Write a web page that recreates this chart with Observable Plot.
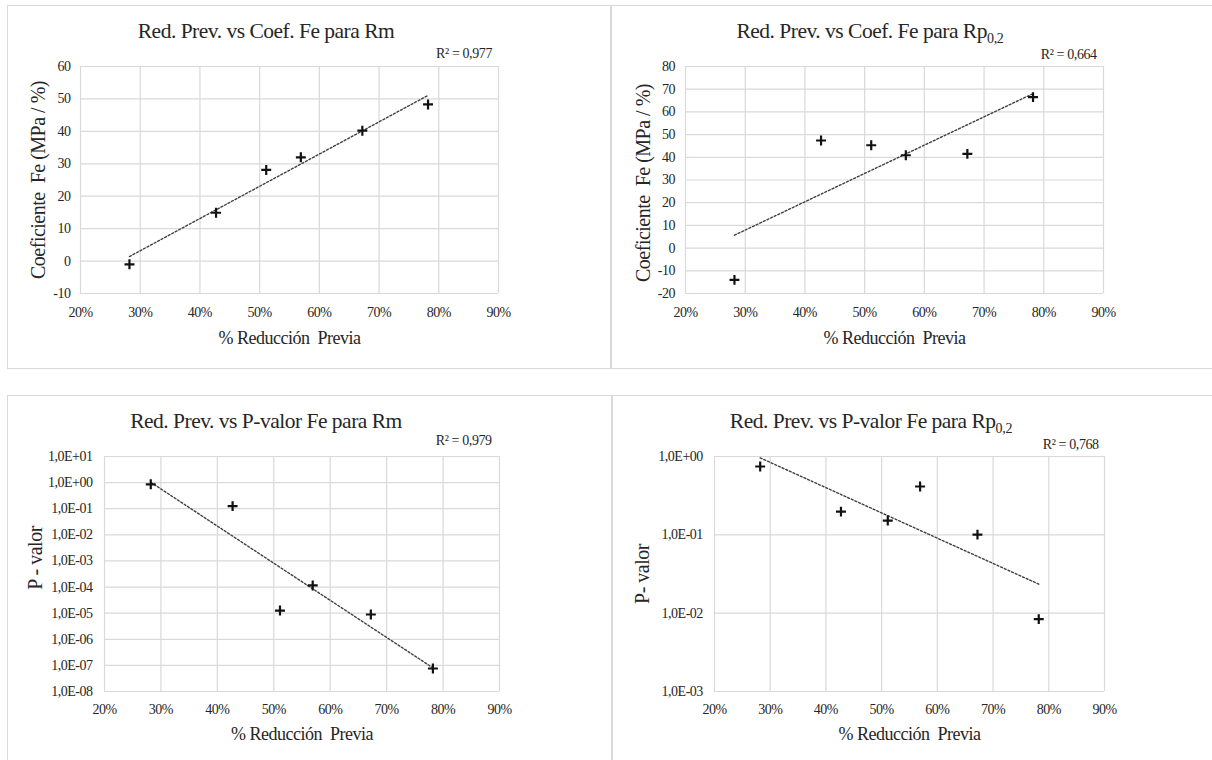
<!DOCTYPE html>
<html>
<head>
<meta charset="utf-8">
<script src="https://cdn.jsdelivr.net/npm/d3@7"></script>
<script src="https://cdn.jsdelivr.net/npm/@observablehq/plot@0.6"></script>
<style>
  html, body { margin: 0; padding: 0; background: #fff; }
  #page { position: relative; width: 1212px; height: 760px; overflow: hidden; background: #fff;
          font-family: "Liberation Serif", "Times New Roman", serif; color: #262626; }
  .panel { position: absolute; }
  .line { position: absolute; background: #d9d9d9; }
  .title { position: absolute; font-size: 21.5px; line-height: 21.5px; letter-spacing: -0.5px;
           white-space: nowrap; transform: translateX(-50%); color: #262626; }
  .title sub { font-size: 14px; line-height: 0; vertical-align: -5px; letter-spacing: -0.3px; }
  .r2 { position: absolute; font-size: 14px; line-height: 14px; letter-spacing: -0.4px;
        white-space: nowrap; transform: translateX(-100%); color: #262626; }
</style>
</head>
<body>
<div id="page"></div>
<script>
// ---------- data ----------
const reduccion = [0.282, 0.427, 0.511, 0.569, 0.672, 0.782];
const coefRm    = [-1, 14.9, 28.1, 32, 40.2, 48.3];
const coefRp    = [-14, 47.4, 45.3, 40.9, 41.5, 66.5];
const pvalRm    = [0.86, 0.126, 1.26e-5, 1.15e-4, 8.9e-6, 7.6e-8];
const pvalRp    = [0.745, 0.198, 0.152, 0.414, 0.1007, 0.0084];

const xTicks      = [0.2, 0.3, 0.4, 0.5, 0.6, 0.7, 0.8, 0.9];
const coefRmTicks = [-10, 0, 10, 20, 30, 40, 50, 60];
const coefRpTicks = [-20, -10, 0, 10, 20, 30, 40, 50, 60, 70, 80];
const pvalRmTicks = [1e-8, 1e-7, 1e-6, 1e-5, 1e-4, 1e-3, 1e-2, 1e-1, 1e0, 1e1];
const pvalRpTicks = [1e-3, 1e-2, 1e-1, 1e0];

const titles  = ["Red. Prev. vs Coef. Fe para Rm", "Red. Prev. vs Coef. Fe para Rp",
                 "Red. Prev. vs P-valor Fe para Rm", "Red. Prev. vs P-valor Fe para Rp"];
const titleSubs = ["", "0,2", "", "0,2"];
const r2Labels = ["R² = 0,977", "R² = 0,664", "R² = 0,979", "R² = 0,768"];
const xLabel = "% Reducción\u00a0\u00a0Previa";
const yLabels = ["Coeficiente\u00a0\u00a0Fe (MPa / %)", "Coeficiente\u00a0\u00a0Fe (MPa / %)", "P - valor", "P- valor"];

// ---------- helpers ----------
const pct = d => Math.round(d * 100) + "%";
const sci = d => { const e = Math.round(Math.log10(d)); return "1,0E" + (e < 0 ? "-" : "+") + String(Math.abs(e)).padStart(2, "0"); };

// least-squares trend (in log10 space for log panels), evaluated at data extent
function trend(xs, ys, log) {
  const t = ys.map(v => log ? Math.log10(v) : v);
  const mx = d3.mean(xs), my = d3.mean(t);
  const sxy = d3.sum(xs, (x, i) => (x - mx) * (t[i] - my));
  const sxx = d3.sum(xs, x => (x - mx) ** 2);
  const b = sxy / sxx, a = my - b * mx;
  return d3.extent(xs).map(x => { const v = a + b * x; return {x, y: log ? 10 ** v : v}; });
}

const panels = [
  {left: 0,   top: 0,   width: 606, height: 370, m: [66, 108, 77, 80],  vals: coefRm, ticks: coefRmTicks, domain: [-10, 60], log: false,
   tpadX: 14, tpadY: 10, xdy: 50, ydx: -42, ydy: 0, tx: 266, ty: 39.3, rx: 492, ry: 58.3},
  {left: 606, top: 0,   width: 606, height: 370, m: [66, 109, 77, 79],  vals: coefRp, ticks: coefRpTicks, domain: [-20, 80], log: false,
   tpadX: 14, tpadY: 10.5, xdy: 50, ydx: -42, ydy: 3, tx: 870, ty: 39.3, rx: 1096.7, ry: 59.3},
  {left: 0,   top: 380, width: 606, height: 380, m: [76, 107, 69, 104], vals: pvalRm, ticks: pvalRmTicks, domain: [1e-8, 1e1], log: true,
   tpadX: 12.5, tpadY: 12, xdy: 48.5, ydx: -69, ydy: -16, tx: 266, ty: 429.3, rx: 491.7, ry: 446},
  {left: 606, top: 380, width: 606, height: 380, m: [76, 108, 69, 108], vals: pvalRp, ticks: pvalRpTicks, domain: [1e-3, 1e0], log: true,
   tpadX: 12.5, tpadY: 11.7, xdy: 48.5, ydx: -72, ydy: 0, tx: 871, ty: 429.3, rx: 1098.7, ry: 450}
];

const page = document.getElementById("page");

// panel borders
const lines = [
  [7, 5, 1205, 1], [7, 5, 1, 364], [610, 5, 2, 364], [7, 368, 1205, 1],
  [7, 395, 1205, 1], [7, 395, 1, 365], [611, 395, 1.5, 365]
];
for (const [x, y, w, h] of lines) {
  const d = document.createElement("div");
  d.className = "line";
  Object.assign(d.style, {left: x + "px", top: y + "px", width: w + "px", height: h + "px"});
  page.appendChild(d);
}

panels.forEach((p, i) => {
  const data = reduccion.map((x, k) => ({x, y: p.vals[k]}));
  const tr = trend(reduccion, p.vals, p.log);
  const chart = Plot.plot({
    width: p.width, height: p.height,
    marginTop: p.m[0], marginRight: p.m[1], marginBottom: p.m[2], marginLeft: p.m[3],
    style: {fontFamily: "'Liberation Serif', 'Times New Roman', serif", fontSize: "14px",
            color: "#262626", background: "transparent", letterSpacing: "-0.5px", overflow: "visible"},
    x: {domain: [0.2, 0.9], ticks: xTicks, tickFormat: pct, tickSize: 0, tickPadding: p.tpadX, label: null},
    y: {type: p.log ? "log" : "linear", domain: p.domain, ticks: p.ticks, tickFormat: p.log ? sci : d => String(d),
        tickSize: 0, tickPadding: p.tpadY, label: null},
    marks: [
      Plot.ruleX(xTicks, {stroke: "#d9d9d9", strokeWidth: 1.2}),
      Plot.ruleY(p.ticks, {stroke: "#d9d9d9", strokeWidth: 1.2}),
      Plot.line(tr, {x: "x", y: "y", stroke: "#404040", strokeWidth: 1.4, strokeDasharray: "2,2"}),
      Plot.dot(data, {x: "x", y: "y", symbol: "plus", r: 3.3, fill: "none", stroke: "#111", strokeWidth: 2.2}),
      Plot.text([xLabel], {text: d => d, frameAnchor: "bottom", dy: p.xdy, lineAnchor: "bottom",
                           textAnchor: "middle", fontSize: 18, fill: "#262626"}),
      Plot.text([yLabels[i]], {text: d => d, frameAnchor: "left", dx: p.ydx, dy: p.ydy, rotate: -90,
                               textAnchor: "middle", lineAnchor: "middle", fontSize: 20, fill: "#262626"})
    ]
  });
  const wrap = document.createElement("div");
  wrap.className = "panel";
  Object.assign(wrap.style, {left: p.left + "px", top: p.top + "px"});
  wrap.appendChild(chart);
  page.appendChild(wrap);

  const t = document.createElement("div");
  t.className = "title";
  t.textContent = titles[i];
  if (titleSubs[i]) { const s = document.createElement("sub"); s.textContent = titleSubs[i]; t.appendChild(s); }
  Object.assign(t.style, {left: p.tx + "px", top: (p.ty - 0.8375 * 21.5) + "px"});
  page.appendChild(t);

  const r = document.createElement("div");
  r.className = "r2";
  r.textContent = r2Labels[i];
  Object.assign(r.style, {left: p.rx + "px", top: (p.ry - 0.8375 * 14) + "px"});
  page.appendChild(r);
});
</script>
</body>
</html>
